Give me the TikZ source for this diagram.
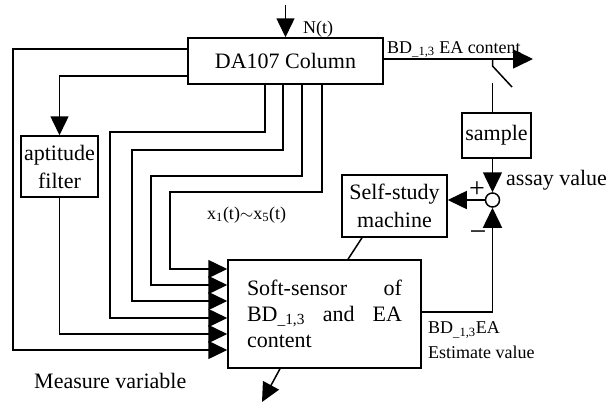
\documentclass[tikz,border=0pt]{standalone}
\usepackage{fontspec}
\setmainfont{Liberation Serif}
\usetikzlibrary{arrows.meta,calc}
\begin{document}
\begin{tikzpicture}[x=1pt,y=-1pt,
  box/.style={draw, line width=1.5pt, inner sep=0pt, font=\fontsize{22}{28}\selectfont},
  wire/.style={line width=1.5pt},
  arr/.style={wire, -{Triangle[length=19pt,width=18pt]}},
  lbl/.style={font=\fontsize{18}{21}\selectfont, inner sep=0pt},
  big/.style={font=\fontsize{22}{27}\selectfont, inner sep=0pt}]
\useasboundingbox (0,0) rectangle (616,405);

% blocks
\node[box, minimum width=195pt, minimum height=46pt] (da) at (285.5,61) {DA107 Column};
\node[box, minimum width=77pt, minimum height=61pt, align=center] (af) at (59.5,166.5) {aptitude\\filter};
\node[box, minimum width=69pt, minimum height=45pt] (sa) at (496.5,135.5) {sample};
\node[box, minimum width=105pt, minimum height=62pt, align=center] (ss) at (394.5,206) {Self-study\\machine};
\node[box, minimum width=193pt, minimum height=108pt, text width=155pt, align=left,
      font=\fontsize{22}{26}\selectfont] (sf) at (324.5,314)
  {\makebox[155pt]{Soft-sensor\hfill of}\\
   \makebox[155pt]{BD\textsubscript{\_1,3}\hfill and\hfill EA}\\
   content};
\node[draw, circle, line width=1.5pt, minimum size=14pt, inner sep=0pt] (ci) at (492.5,200) {};

% N(t)
\coordinate (nt) at (285.5,5);
\draw[arr] (nt) -- (da.north);
\node[lbl, anchor=west] (ntl) at (303,29) {N(t)};

% output of column
\coordinate (outend) at (533,59);
\draw[wire, -{Triangle[length=20pt,width=19pt]}] (da.east |- outend) -- (outend);
\node[lbl, anchor=base west] (bdl) at (387,53) {BD\textsubscript{\_1,3} EA content};

% switch and sample
\coordinate (sw1) at (492.5,66);
\coordinate (sw2) at (512,87);
\coordinate (sw3) at (492.5,83);
\draw[wire] (sw1 |- outend) -- (sw1) -- (sw2);
\draw[wire] (sw3) -- (sw3 |- sa.north);
\draw[wire, -{Triangle[length=20pt,width=19pt]}] (ci |- sa.south) -- (ci.north);
\node[big, anchor=west] (av) at (506,180) {assay value};
\node[font=\fontsize{28}{30}\selectfont, inner sep=0pt] (plus) at (477,190) {+};
\node[font=\fontsize{30}{30}\selectfont, inner sep=0pt] (minus) at (478,236) {−};

% comparator to self-study
\draw[arr] (ci.west) -- (ss.east |- ci);
\draw[wire] ($(ss.south)+(-32.5,0)$) -- ($(sf.north)+(23.5,0)$);

% estimate output
\coordinate (oc) at (492.5,312);
\draw[wire, -{Triangle[length=20pt,width=19pt]}] (sf.east |- oc) -- (oc) -- (ci.south);
\node[lbl, anchor=west] (bde) at (428,330) {BD\textsubscript{\_1,3}EA};
\node[lbl, anchor=west] (ev) at (428,352) {Estimate value};

% bottom output
\coordinate (botend) at (262,402);
\draw[arr] ($(sf.south)+(-44.5,0)$) -- (botend);

% inputs
\draw[arr] (da.west |- 0,49) -| (13,350) -- (sf.west |- 0,350);
\draw[arr] (da.west |- 0,76) -| (af.north);
\draw[arr] (af.south) -- (59.5,334) -- (sf.west |- 0,334);
\draw[arr] (da.south -| 265,0) |- (110,132) |- (sf.west |- 0,318);
\draw[arr] (da.south -| 283,0) |- (132,150) |- (sf.west |- 0,301);
\draw[arr] (da.south -| 302,0) |- (151,176) |- (sf.west |- 0,285);
\draw[arr] (da.south -| 322,0) |- (170,192) |- (sf.west |- 0,269);
\node[lbl, anchor=west] (xl) at (207,215) {x\textsubscript{1}(t)$\sim$x\textsubscript{5}(t)};
\node[big, anchor=west] (mv) at (34,381) {Measure variable};
\end{tikzpicture}
\end{document}
